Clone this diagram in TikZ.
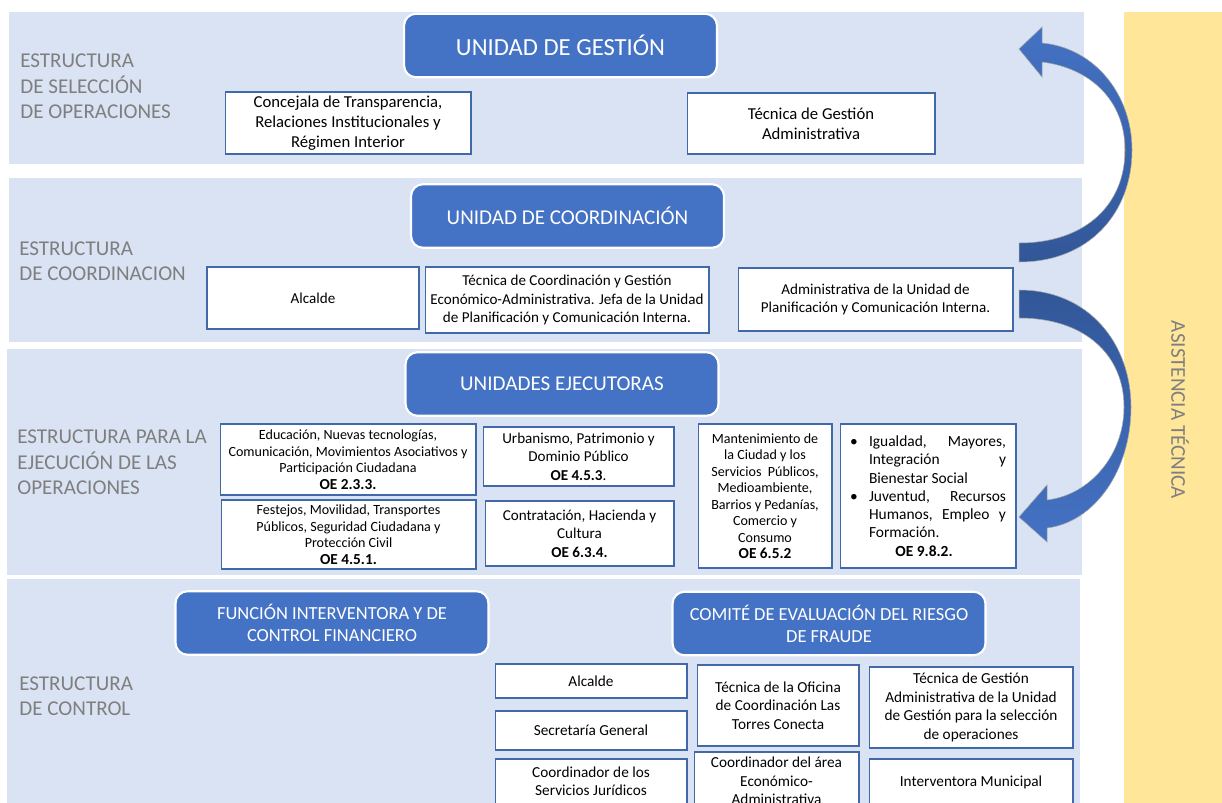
\documentclass[tikz,border=0pt]{standalone}
\usepackage{fontspec}
\setmainfont{Carlito}
\usetikzlibrary{positioning}
\definecolor{bandblue}{RGB}{218,227,243}
\definecolor{titleblue}{RGB}{68,114,196}
\definecolor{arrowdark}{RGB}{50,87,152}
\definecolor{bandyellow}{RGB}{255,230,153}
\definecolor{labelgray}{RGB}{127,127,127}
\definecolor{boxline}{RGB}{65,105,170}

\begin{document}
\begin{tikzpicture}[x=0.02cm,y=-0.02cm,
    title/.style={fill=titleblue,draw=white,line width=1.2pt,rounded corners=0.24cm,
      text=white,align=center,minimum width=6.26cm,minimum height=1.27cm,
      font=\fontsize{12}{14.5}\selectfont},
    ctitle/.style={title,font=\fontsize{10.5}{12.5}\selectfont},
    unit/.style={fill=white,draw=boxline,line width=0.6pt,align=center,inner sep=1pt,
      font=\fontsize{9.5}{11.3}\selectfont},
    mid/.style={unit,font=\fontsize{8.6}{10.4}\selectfont},
    small/.style={unit,font=\fontsize{8}{9.4}\selectfont},
    ctrl/.style={unit,font=\fontsize{8.7}{10.5}\selectfont},
    section/.style={anchor=west,align=left,text=labelgray,inner sep=0pt,
      font=\fontsize{12}{14.4}\selectfont}]
  \useasboundingbox (0,0) rectangle (1222,803);
  \clip (0,0) rectangle (1222,803);

  \fill[bandblue] (9,12) rectangle (1084,164);
  \fill[bandblue] (9,178) rectangle (1082,342);
  \fill[bandblue] (7,349) rectangle (1082,575);
  \fill[bandblue] (7,579) rectangle (1080,803);
  \fill[bandyellow] (1124,12) rectangle (1222,803);
  \node[rotate=-90,text=labelgray,font=\fontsize{12}{14}\selectfont] (asist) at (1180,410) {ASISTENCIA TÉCNICA};

  \node[section] (seleccion) at (20,86.5) {ESTRUCTURA\\DE SELECCIÓN\\DE OPERACIONES};
  \node[title,font=\fontsize{14}{16}\selectfont] (gestion) at (560.5,45.5) {UNIDAD DE GESTIÓN};
  \node[unit,minimum width=4.92cm,minimum height=1.24cm] (concejala) at (348,123)
    {Concejala de Transparencia,\\Relaciones Institucionales y\\Régimen Interior};
  \node[unit,minimum width=4.96cm,minimum height=1.22cm] (tecgest) at (811,123.5)
    {Técnica de Gestión\\Administrativa};

  \node[section] (coordinacion) at (19,261) {ESTRUCTURA\\DE COORDINACION};
  \node[title] (coord) at (567.5,216) {UNIDAD DE COORDINACIÓN};
  \node[mid,minimum width=4.24cm,minimum height=1.24cm] (alcalde) at (313,298) {Alcalde};
  \node[mid,minimum width=5.68cm,minimum height=1.32cm] (teccoord) at (567,300)
    {Técnica de Coordinación y Gestión\\Económico-Administrativa. Jefa de la Unidad\\de Planificación y Comunicación Interna.};
  \node[mid,minimum width=5.5cm,minimum height=1.26cm] (admplan) at (875.5,299.5)
    {Administrativa de la Unidad de\\Planificación y Comunicación Interna.};

  \node[section] (ejecucion) at (17,462.5) {ESTRUCTURA PARA LA\\EJECUCIÓN DE LAS\\OPERACIONES};
  \node[title] (ejec) at (562,384) {UNIDADES EJECUTORAS};
  \node[small,minimum width=5.12cm,minimum height=1.42cm] (educ) at (348,459.5)
    {Educación, Nuevas tecnologías,\\Comunicación, Movimientos Asociativos y\\Participación Ciudadana\\{\fontsize{8.7}{9.4}\selectfont\textbf{OE 2.3.3.}}};
  \node[small,minimum width=5.1cm,minimum height=1.38cm] (festejos) at (348.5,534.5)
    {Festejos, Movilidad, Transportes\\Públicos, Seguridad Ciudadana y\\Protección Civil\\{\fontsize{8.7}{9.4}\selectfont\textbf{OE 4.5.1.}}};
  \node[mid,font=\fontsize{8.6}{10.6}\selectfont,minimum width=3.82cm,minimum height=1.18cm] (urban) at (578.5,456.5)
    {Urbanismo, Patrimonio y\\Dominio Público\\\textbf{OE 4.5.3}.};
  \node[mid,font=\fontsize{8.6}{10.6}\selectfont,minimum width=3.78cm,minimum height=1.3cm] (contrat) at (579.5,533.5)
    {Contratación, Hacienda y\\Cultura\\\textbf{OE 6.3.4.}};
  \node[small,minimum width=2.68cm,minimum height=2.88cm] (manten) at (765,496)
    {Mantenimiento de\\la Ciudad y los\\Servicios\ \ Públicos,\\Medioambiente,\\Barrios y Pedanías,\\Comercio y\\Consumo\\{\fontsize{8.7}{9.4}\selectfont\textbf{OE 6.5.2}}};
  \node[unit,align=left,font=\fontsize{8.8}{10.4}\selectfont,minimum width=3.52cm,minimum height=2.88cm] (igualdad) at (928,496)
    {\makebox[0.38cm][l]{\textbullet}\makebox[2.74cm]{Igualdad,\hfill Mayores,}\\
     \hspace*{0.38cm}\makebox[2.74cm]{Integración\hfill y}\\
     \hspace*{0.38cm}Bienestar Social\\
     \makebox[0.38cm][l]{\textbullet}\makebox[2.74cm]{Juventud,\hfill Recursos}\\
     \hspace*{0.38cm}\makebox[2.74cm]{Humanos,\hfill Empleo\hfill y}\\
     \hspace*{0.38cm}Formación.\\
     \hspace*{0.38cm}\makebox[2.2cm]{\textbf{OE 9.8.2.}}};

  \node[section] (control) at (19,696.5) {ESTRUCTURA\\DE CONTROL};
  \node[ctitle] (interv) at (332,623) {FUNCIÓN INTERVENTORA Y DE\\CONTROL FINANCIERO};
  \node[ctitle] (comite) at (829,623.5) {COMITÉ DE EVALUACIÓN DEL RIESGO\\DE FRAUDE};
  \node[ctrl,minimum width=3.84cm,minimum height=0.68cm] (alcaldec) at (591,681) {Alcalde};
  \node[ctrl,minimum width=3.84cm,minimum height=0.78cm] (secret) at (591,730.5) {Secretaría General};
  \node[ctrl,minimum width=3.84cm,minimum height=0.9cm] (coordjur) at (591,781.5)
    {Coordinador de los\\Servicios Jurídicos};
  \node[ctrl,minimum width=3.24cm,minimum height=1.62cm] (tecofi) at (778,705.5)
    {Técnica de la Oficina\\de Coordinación Las\\Torres Conecta};
  \node[ctrl,minimum width=3.3cm,minimum height=1.16cm] (coordarea) at (776.5,781)
    {Coordinador del área\\Económico-\\Administrativa};
  \node[ctrl,minimum width=4.08cm,minimum height=1.62cm] (tecgestadm) at (971,707.5)
    {Técnica de Gestión\\Administrativa de la Unidad\\de Gestión para la selección\\de operaciones};
  \node[ctrl,minimum width=4.08cm,minimum height=0.92cm] (intervmun) at (971,782) {Interventora Municipal};

  \shade[top color=titleblue,bottom color=arrowdark,draw=gray!70,line width=0.3pt]
    (1019,262) .. controls (1090,262) and (1132,212) .. (1132,150)
    .. controls (1132,95) and (1095,48) .. (1042,43)
    -- (1042,27) -- (1019,49) -- (1042,77) -- (1042,62)
    .. controls (1090,68) and (1125,100) .. (1125,150)
    .. controls (1125,205) and (1085,243) .. (1019,243) -- cycle;
  \shade[top color=arrowdark,bottom color=titleblue,draw=gray!70,line width=0.3pt]
    (1019,290) .. controls (1090,290) and (1131,345) .. (1131,407)
    .. controls (1131,470) and (1095,522) .. (1047,528)
    -- (1047,542) -- (1019,517) -- (1047,485) -- (1047,500)
    .. controls (1090,495) and (1124,455) .. (1124,407)
    .. controls (1124,355) and (1085,318) .. (1019,318) -- cycle;
\end{tikzpicture}
\end{document}
